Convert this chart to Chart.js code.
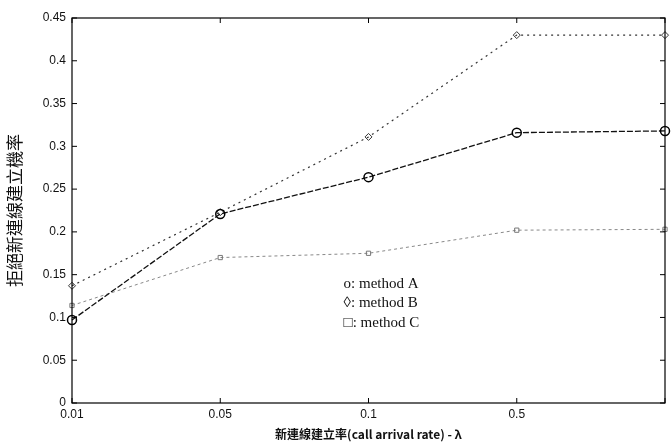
<!DOCTYPE html>
<html>
<head>
<meta charset="utf-8">
<script src="https://cdn.jsdelivr.net/npm/chart.js@4.4.1/dist/chart.umd.min.js"></script>
<style>
  html, body { margin: 0; padding: 0; background: #fff; }
  #wrap { width: 671px; height: 444px; }
</style>
</head>
<body>
<div id="wrap"><canvas id="lineChart" width="671" height="444"></canvas></div>
<script>
const categories = ["0.01", "0.05", "0.1", "0.5", "1"];
const tickLabels = ["0.01", "0.05", "0.1", "0.5", ""];
const methodA = [0.097, 0.221, 0.264, 0.316, 0.318];
const methodB = [0.137, 0.223, 0.311, 0.430, 0.430];
const methodC = [0.114, 0.170, 0.175, 0.202, 0.203];
const legendLines = ["o: method A", "\u25CA: method B", "\u25A1: method C"];

// MATLAB-style frame with inward ticks, plus in-plot text legend
const framePlugin = {
  id: "frame",
  afterDatasetsDraw(chart) {
    const { ctx, chartArea: a, scales } = chart;
    ctx.save();
    ctx.strokeStyle = "#000";
    ctx.lineWidth = 1.2;
    ctx.strokeRect(a.left, a.top, a.right - a.left, a.bottom - a.top);
    ctx.lineWidth = 1;
    scales.y.ticks.forEach((t, i) => {
      const y = scales.y.getPixelForTick(i);
      ctx.beginPath();
      ctx.moveTo(a.left, y); ctx.lineTo(a.left + 5, y);
      ctx.moveTo(a.right, y); ctx.lineTo(a.right - 5, y);
      ctx.stroke();
    });
    scales.x.ticks.forEach((t, i) => {
      const x = scales.x.getPixelForTick(i);
      ctx.beginPath();
      ctx.moveTo(x, a.bottom); ctx.lineTo(x, a.bottom - 5);
      ctx.moveTo(x, a.top); ctx.lineTo(x, a.top + 5);
      ctx.stroke();
    });
    ctx.fillStyle = "#111";
    ctx.font = "15px 'Liberation Serif', serif";
    ctx.textBaseline = "middle";
    const lx = a.left + (a.right - a.left) * 0.458;
    legendLines.forEach((s, i) => {
      ctx.fillText(s, lx, a.top + (a.bottom - a.top) * 0.69 + i * 19.5);
    });
    ctx.restore();
  }
};

const ctx = document.getElementById("lineChart").getContext("2d");
new Chart(ctx, {
  type: "line",
  data: {
    labels: categories,
    datasets: [
      {
        label: "method A",
        data: methodA,
        borderColor: "#111",
        borderWidth: 1.3,
        borderDash: [6, 2],
        pointStyle: "circle",
        pointRadius: 4.5,
        pointBorderColor: "#000",
        pointBorderWidth: 1.5,
        pointBackgroundColor: "rgba(0,0,0,0)",
        tension: 0,
      },
      {
        label: "method B",
        data: methodB,
        borderColor: "#333",
        borderWidth: 1.2,
        borderDash: [2, 4],
        pointStyle: "rectRot",
        pointRadius: 3.5,
        pointBorderColor: "#333",
        pointBorderWidth: 1,
        pointBackgroundColor: "rgba(0,0,0,0)",
        tension: 0,
      },
      {
        label: "method C",
        data: methodC,
        borderColor: "#888",
        borderWidth: 1,
        borderDash: [3, 3],
        pointStyle: "rect",
        pointRadius: 3,
        pointBorderColor: "#777",
        pointBorderWidth: 1,
        pointBackgroundColor: "rgba(0,0,0,0)",
        tension: 0,
      },
    ],
  },
  options: {
    responsive: false,
    animation: false,
    layout: { padding: { top: 18, right: 2, left: 4, bottom: 2 } },
    plugins: {
      legend: { display: false },
      tooltip: { enabled: false },
    },
    scales: {
      x: {
        offset: false,
        grid: { display: false, drawTicks: false },
        border: { display: false },
        ticks: {
          color: "#111",
          padding: 4,
          maxRotation: 0,
          autoSkip: false,
          font: { family: "'Liberation Sans', Arial", size: 12 },
          callback: (v, i) => tickLabels[i],
        },
        title: {
          display: true,
          text: "新連線建立率(call arrival rate) - λ",
          color: "#111",
          padding: { top: 1, bottom: 0 },
          font: { family: "'Noto Sans CJK TC', 'Liberation Sans'", size: 12, weight: "bold" },
        },
        afterFit: (s) => { s.height = 39; },
      },
      y: {
        min: 0,
        max: 0.45,
        grid: { display: false, drawTicks: false },
        border: { display: false },
        ticks: {
          stepSize: 0.05,
          color: "#111",
          padding: 6,
          font: { family: "'Liberation Sans', Arial", size: 12 },
          callback: (v) => String(Number(v.toFixed(2))),
        },
        title: {
          display: true,
          text: "拒絕新連線建立機率",
          color: "#111",
          padding: { top: 0, bottom: 6 },
          font: { family: "'Noto Sans CJK TC'", size: 17 },
        },
        afterFit: (s) => { s.width = 68; },
      },
    },
  },
  plugins: [framePlugin],
});
</script>
</body>
</html>
